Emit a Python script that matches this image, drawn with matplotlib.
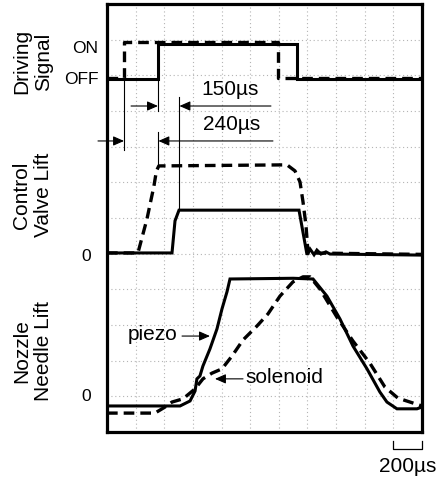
import matplotlib
matplotlib.use("Agg")
import matplotlib.pyplot as plt

# ---- data (time in µs, vertical position in screen divisions) ----
t_max = 2200
time_per_div = 200

# Driving signal (OFF / ON levels)
drive_solid_t = [0, 356, 356, 1327, 1327, 2200]
drive_solid_y = [9.90, 9.90, 10.88, 10.88, 9.90, 9.90]
drive_dash_t = [0, 119, 119, 1194, 1194, 2200]
drive_dash_y = [9.92, 9.92, 10.93, 10.93, 9.93, 9.93]

# Control valve lift
valve_solid_t = [0, 454, 475, 503, 1341, 1397, 1418, 1446, 1466, 1494, 1529, 1557, 2200]
valve_solid_y = [5.02, 5.02, 5.92, 6.22, 6.22, 4.97, 5.13, 4.97, 5.10, 4.99, 5.05, 4.99, 4.96]
valve_dash_t = [0, 216, 279, 328, 345, 362, 1257, 1313, 1348, 1369, 1390, 1404, 2200]
valve_dash_y = [5.02, 5.02, 5.97, 6.90, 7.32, 7.46, 7.49, 7.32, 7.01, 6.45, 5.78, 5.02, 4.98]

# Nozzle needle lift
piezo_t = [0, 510, 580, 615, 628, 649, 670, 719, 768, 803, 838, 859, 1300, 1439,
           1536, 1627, 1718, 1816, 1906, 1955, 2025, 2165, 2200]
piezo_y = [0.73, 0.73, 0.87, 1.15, 1.49, 1.57, 1.85, 2.33, 2.89, 3.45, 3.93, 4.29, 4.31, 4.29,
           3.81, 3.17, 2.41, 1.77, 1.12, 0.84, 0.65, 0.65, 0.70]
solenoid_t = [0, 335, 405, 454, 531, 615, 670, 733, 803, 873, 950, 1047, 1124, 1208,
              1299, 1369, 1418, 1487, 1606, 1718, 1836, 1941, 2032, 2116, 2200]
solenoid_y = [0.53, 0.53, 0.70, 0.84, 0.93, 1.21, 1.49, 1.65, 1.77, 2.13, 2.58, 2.97, 3.31, 3.81,
              4.21, 4.35, 4.35, 4.01, 3.22, 2.55, 1.93, 1.26, 0.95, 0.84, 0.73]

# Response delays (driving edge -> full control valve lift)
delay_piezo = 150
delay_solenoid = 240

# ---- figure ----
W, H = 436, 481
fig = plt.figure(figsize=(W / 100, H / 100), dpi=100)
ax = fig.add_axes([107 / W, 48 / H, 315 / W, 428 / H])
ax.set_xlim(0, t_max)
ax.set_ylim(0, 12)
ax.set_xticks([])
ax.set_yticks([])
for s in ax.spines.values():
    s.set_linewidth(2.3)

# dotted screen grid
for k in range(1, t_max // time_per_div):
    ax.axvline(k * time_per_div, color="#b4b4b4", lw=0.8, ls=(0, (1, 2.5)), zorder=0)
for k in range(1, 12):
    ax.axhline(k, color="#b4b4b4", lw=0.8, ls=(0, (1, 2.5)), zorder=0)

solid_kw = dict(color="black", lw=2.2, solid_joinstyle="miter", zorder=3)
dash_kw = dict(color="black", lw=2.4, ls=(0, (3.2, 1.8)), zorder=4)

ax.plot(drive_solid_t, drive_solid_y, **solid_kw)
ax.plot(drive_dash_t, drive_dash_y, **dash_kw)
ax.plot(valve_solid_t, valve_solid_y, **solid_kw)
ax.plot(valve_dash_t, valve_dash_y, **dash_kw)
ax.plot(piezo_t, piezo_y, **solid_kw)
ax.plot(solenoid_t, solenoid_y, **dash_kw)

# ---- delay dimension lines ----
thin = dict(color="black", lw=0.8, zorder=5)
arrow = dict(arrowstyle="-|>,head_length=0.5,head_width=0.22", color="black",
             lw=0.8, mutation_scale=13, shrinkA=0, shrinkB=0)

t_on_p = drive_solid_t[1]
t_on_s = drive_dash_t[1]
t_end_p = t_on_p + delay_piezo
t_end_s = t_on_s + delay_solenoid

# 150 µs
y150 = 9.14
ax.plot([t_on_p, t_on_p], [9.90, 9.0], **thin)
ax.plot([t_end_p, t_end_p], [9.39, 6.22], **thin)
ax.annotate("", xy=(t_on_p, y150), xytext=(168, y150), arrowprops=arrow)
ax.annotate("", xy=(t_end_p, y150), xytext=(1145, y150), arrowprops=arrow)
ax.text(862, 9.62, f"{delay_piezo}µs", fontsize=15, family="Liberation Sans",
        ha="center", va="center")

# 240 µs
y240 = 8.16
ax.plot([t_on_s, t_on_s], [9.92, 7.91], **thin)
ax.plot([t_end_s, t_end_s], [8.41, 7.46], **thin)
ax.annotate("", xy=(t_on_s, y240), xytext=(-63, y240), arrowprops=arrow,
            annotation_clip=False)
ax.annotate("", xy=(t_end_s, y240), xytext=(1159, y240), arrowprops=arrow)
ax.text(868, 8.64, f"{delay_solenoid}µs", fontsize=15, family="Liberation Sans",
        ha="center", va="center")

# ---- curve labels ----
ax.annotate("", xy=(719, 2.69), xytext=(524, 2.69), arrowprops=arrow)
ax.text(495, 2.76, "piezo", fontsize=15, family="Liberation Sans", ha="right", va="center")
ax.annotate("", xy=(754, 1.49), xytext=(950, 1.49), arrowprops=arrow)
ax.text(968, 1.55, "solenoid", fontsize=15, family="Liberation Sans", ha="left", va="center")

# ---- level labels ----
lab = dict(fontsize=12.5, family="Liberation Sans", ha="right", va="center",
           transform=ax.get_yaxis_transform())
ax.text(-0.027, 10.79, "ON", **lab)
ax.text(-0.027, 9.90, "OFF", **lab)
ax.text(-0.05, 4.96, "0", **lab)
ax.text(-0.05, 1.01, "0", **lab)

# ---- channel titles ----
for yc, txt in [(0.867, "Driving\nSignal"), (0.556, "Control\nValve Lift"),
                (0.192, "Nozzle\nNeedle Lift")]:
    ax.text(-0.236, yc, txt, transform=ax.transAxes, rotation=90, fontsize=15,
            family="Liberation Sans", ha="center", va="center",
            multialignment="center", linespacing=1.2)

# ---- time scale bar ----
bar_x0, bar_x1 = t_max - time_per_div, t_max
ax.plot([bar_x0, bar_x0, bar_x1, bar_x1], [-0.25, -0.48, -0.48, -0.25],
        color="black", lw=0.9, clip_on=False)
ax.text(2100, -0.93, f"{time_per_div}µs", fontsize=15, family="Liberation Sans",
        ha="center", va="center", clip_on=False)

fig.savefig("out.png", dpi=100)
